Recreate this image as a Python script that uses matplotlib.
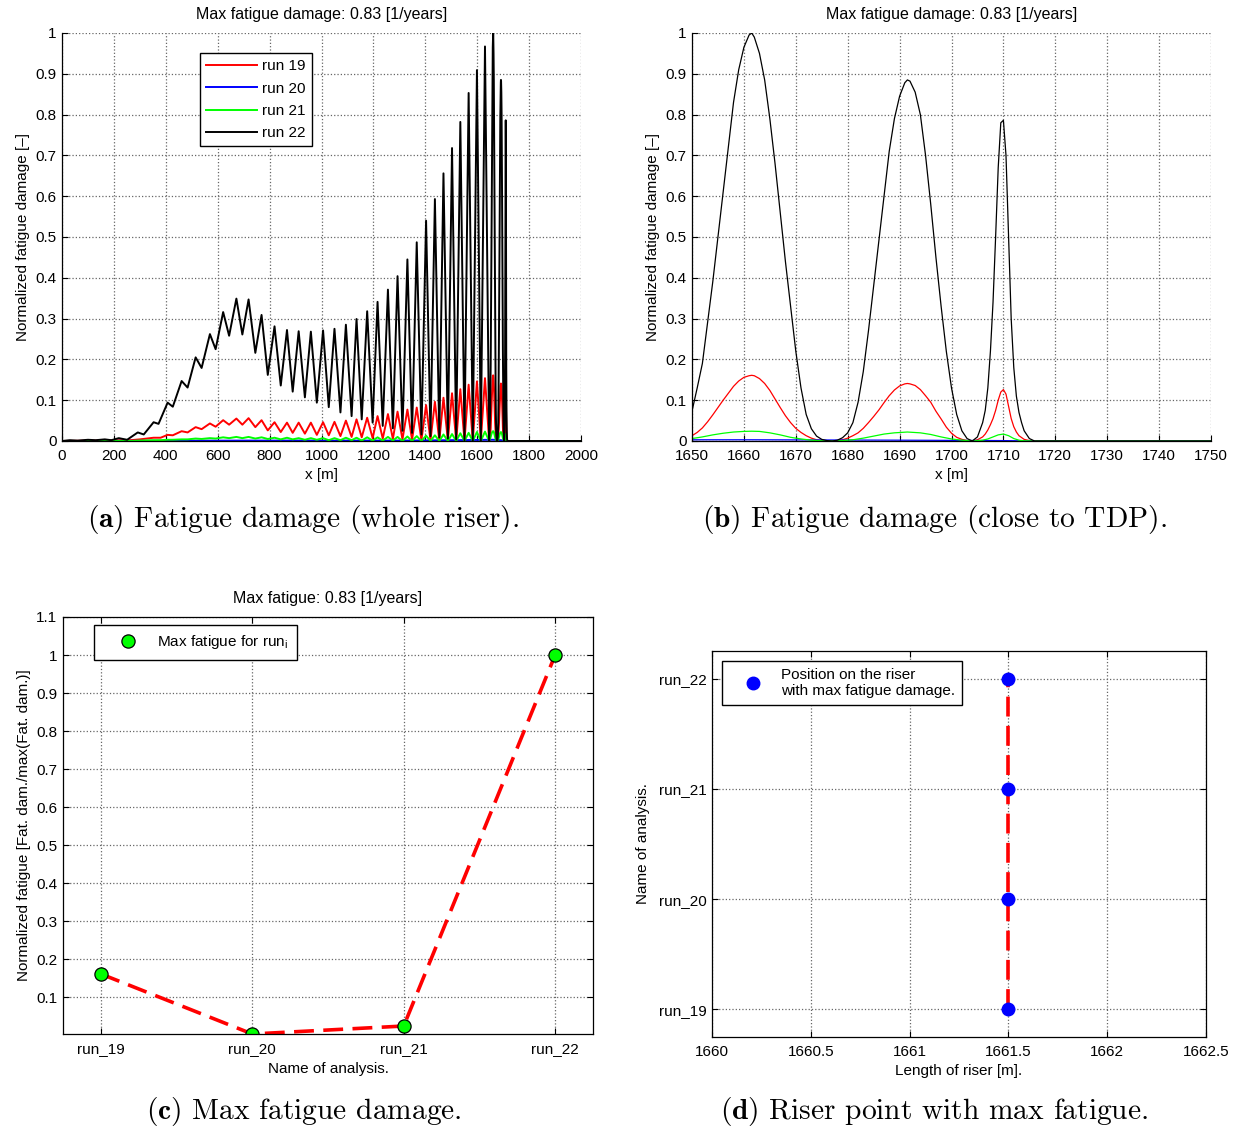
import matplotlib
matplotlib.use("Agg")
import matplotlib.pyplot as plt
from matplotlib.ticker import FuncFormatter, MultipleLocator

# ---------------------------------------------------------------------------
# Normalized fatigue damage along the riser, x in metres
# ---------------------------------------------------------------------------
# run 22: peaks / troughs along the riser, then a dense sampling near the TDP
x22_riser = [0, 30, 60, 100, 130, 165, 190, 219, 251, 292, 315, 353, 372, 407, 427,
             461, 484, 515, 538, 570, 592, 621, 644, 672, 695, 719, 745, 769, 793,
             819, 843, 867, 889, 912, 936, 959, 982, 1006, 1028, 1050, 1073, 1094,
             1116, 1135, 1155, 1176, 1197, 1216, 1236, 1256, 1275, 1293, 1312, 1331,
             1349, 1367, 1385, 1403, 1420, 1437, 1454, 1470, 1487, 1503, 1519, 1535,
             1551, 1567, 1583, 1599, 1614, 1630, 1646]
d22_riser = [0.0, 0.002, 0.001, 0.003, 0.002, 0.004, 0.002, 0.007, 0.003, 0.021, 0.016,
             0.046, 0.042, 0.094, 0.084, 0.147, 0.131, 0.205, 0.179, 0.262, 0.225,
             0.316, 0.258, 0.349, 0.261, 0.347, 0.216, 0.309, 0.162, 0.281, 0.136,
             0.272, 0.121, 0.269, 0.107, 0.268, 0.094, 0.271, 0.083, 0.275, 0.070,
             0.285, 0.061, 0.299, 0.053, 0.318, 0.045, 0.341, 0.037, 0.371, 0.031,
             0.404, 0.025, 0.445, 0.020, 0.487, 0.016, 0.540, 0.012, 0.593, 0.009,
             0.656, 0.006, 0.718, 0.004, 0.782, 0.002, 0.853, 0.001, 0.909, 0.0,
             0.967, 0.0]
x22_tdp = [1650, 1651, 1652, 1653, 1654, 1655, 1656, 1657, 1658, 1659, 1660, 1661,
           1661.5, 1662, 1663, 1664, 1665, 1666, 1667, 1668, 1669, 1670, 1671, 1672,
           1673, 1674, 1675, 1676, 1677, 1678, 1679, 1680, 1681, 1682, 1683, 1684,
           1685, 1686, 1687, 1688, 1689, 1690, 1691, 1691.5, 1692, 1693, 1694, 1695,
           1696, 1697, 1698, 1699, 1700, 1701, 1702, 1703, 1704, 1705, 1706, 1706.5,
           1707, 1707.5, 1708, 1708.5, 1709, 1709.5, 1710, 1710.5, 1711, 1711.5,
           1712, 1712.5, 1713, 1713.5, 1714, 1715, 1716, 2000]
d22_tdp = [0.073, 0.13, 0.19, 0.29, 0.39, 0.50, 0.61, 0.72, 0.83, 0.91, 0.965, 0.995,
           1.0, 0.99, 0.95, 0.885, 0.79, 0.68, 0.56, 0.44, 0.33, 0.22, 0.13, 0.065,
           0.03, 0.012, 0.004, 0.001, 0.0, 0.002, 0.008, 0.02, 0.045, 0.095, 0.17,
           0.27, 0.38, 0.49, 0.60, 0.71, 0.79, 0.845, 0.878, 0.885, 0.882, 0.855,
           0.80, 0.70, 0.58, 0.45, 0.33, 0.22, 0.13, 0.065, 0.025, 0.006, 0.0, 0.01,
           0.045, 0.075, 0.13, 0.22, 0.34, 0.50, 0.67, 0.78, 0.786, 0.70, 0.50, 0.30,
           0.18, 0.11, 0.07, 0.045, 0.025, 0.006, 0.0, 0.0]

# runs 19 and 21 share the same sampling along the riser
x_riser = [0, 264, 300, 353, 380, 407, 427, 461, 484, 515, 538, 570, 592, 621, 644,
           672, 695, 719, 745, 769, 793, 819, 843, 867, 889, 912, 936, 959, 982,
           1006, 1028, 1050, 1073, 1094, 1116, 1135, 1155, 1176, 1197, 1216, 1236,
           1256, 1275, 1293, 1312, 1331, 1349, 1367, 1385, 1403, 1420, 1437, 1454,
           1470, 1487, 1503, 1519, 1535, 1551, 1567, 1583, 1599, 1614, 1630, 1646]
d19_riser = [0.0, 0.002, 0.004, 0.008, 0.008, 0.015, 0.014, 0.024, 0.021, 0.034,
             0.029, 0.043, 0.035, 0.051, 0.040, 0.055, 0.040, 0.056, 0.034, 0.051,
             0.026, 0.046, 0.022, 0.045, 0.020, 0.045, 0.018, 0.045, 0.015, 0.046,
             0.014, 0.047, 0.012, 0.050, 0.010, 0.053, 0.009, 0.057, 0.007, 0.061,
             0.006, 0.066, 0.005, 0.072, 0.004, 0.077, 0.003, 0.082, 0.002, 0.088,
             0.002, 0.096, 0.001, 0.106, 0.001, 0.117, 0.0, 0.127, 0.0, 0.138, 0.0,
             0.146, 0.0, 0.154, 0.0]
d21_riser = [0.0, 0.0, 0.001, 0.002, 0.002, 0.003, 0.003, 0.004, 0.004, 0.006, 0.005,
             0.007, 0.006, 0.009, 0.007, 0.010, 0.007, 0.010, 0.006, 0.009, 0.005,
             0.008, 0.004, 0.008, 0.004, 0.007, 0.003, 0.007, 0.003, 0.007, 0.002,
             0.007, 0.002, 0.008, 0.002, 0.008, 0.001, 0.009, 0.001, 0.009, 0.001,
             0.010, 0.001, 0.010, 0.0, 0.011, 0.0, 0.012, 0.0, 0.013, 0.0, 0.014,
             0.0, 0.016, 0.0, 0.017, 0.0, 0.019, 0.0, 0.020, 0.0, 0.022, 0.0, 0.023,
             0.0]

x19_tdp = [1650, 1651, 1652, 1653, 1654, 1655, 1656, 1657, 1658, 1659, 1660, 1661,
           1661.5, 1662, 1663, 1664, 1665, 1666, 1667, 1668, 1669, 1670, 1671, 1672,
           1673, 1674, 1675, 1676, 1677, 1678, 1679, 1680, 1681, 1682, 1683, 1684,
           1685, 1686, 1687, 1688, 1689, 1690, 1691, 1691.5, 1692, 1693, 1694, 1695,
           1696, 1697, 1698, 1699, 1700, 1701, 1702, 1703, 1704, 1705, 1706, 1706.5,
           1707, 1707.5, 1708, 1708.5, 1709, 1709.5, 1710, 1710.5, 1711, 1711.5,
           1712, 1712.5, 1713, 1714, 1715, 1716, 2000]
d19_tdp = [0.013, 0.021, 0.032, 0.047, 0.064, 0.082, 0.100, 0.117, 0.134, 0.147,
           0.156, 0.160, 0.161, 0.160, 0.153, 0.141, 0.124, 0.103, 0.082, 0.062,
           0.045, 0.031, 0.021, 0.013, 0.007, 0.003, 0.001, 0.0, 0.0, 0.001, 0.003,
           0.007, 0.013, 0.020, 0.031, 0.045, 0.060, 0.076, 0.094, 0.111, 0.125,
           0.135, 0.140, 0.141, 0.140, 0.136, 0.126, 0.111, 0.095, 0.073, 0.054,
           0.034, 0.019, 0.009, 0.004, 0.001, 0.0, 0.003, 0.010, 0.017, 0.027,
           0.040, 0.055, 0.075, 0.100, 0.120, 0.126, 0.115, 0.085, 0.055, 0.035,
           0.022, 0.013, 0.004, 0.001, 0.0, 0.0]

x21_tdp = [1650, 1652, 1654, 1656, 1658, 1660, 1661.5, 1663, 1665, 1667, 1669, 1671,
           1673, 1675, 1677, 1679, 1681, 1683, 1685, 1687, 1689, 1691.5, 1694, 1696,
           1698, 1700, 1702, 1704, 1706, 1707, 1708, 1709, 1710, 1711, 1712, 1713,
           1714, 1716, 2000]
d21_tdp = [0.006, 0.010, 0.015, 0.019, 0.022, 0.0235, 0.024, 0.0235, 0.020, 0.015,
           0.009, 0.005, 0.002, 0.0005, 0.0, 0.001, 0.003, 0.007, 0.012, 0.017,
           0.020, 0.022, 0.020, 0.016, 0.010, 0.005, 0.002, 0.0, 0.002, 0.005,
           0.010, 0.015, 0.017, 0.013, 0.006, 0.002, 0.0005, 0.0, 0.0]

# run 20 stays practically at zero over the whole riser
x20 = [0, 400, 700, 1000, 1300, 1500, 1661.5, 1690, 1710, 1716, 2000]
d20 = [0.0, 0.0005, 0.001, 0.001, 0.001, 0.002, 0.003, 0.002, 0.001, 0.0, 0.0]

# summary per analysis
run_names = ["run_19", "run_20", "run_21", "run_22"]
max_fatigue_norm = [0.161, 0.003, 0.024, 1.0]
max_fatigue_pos = [1661.5, 1661.5, 1661.5, 1661.5]
max_damage = 0.83

# ---------------------------------------------------------------------------
plt.rcParams.update({
    "font.family": ["Liberation Sans", "DejaVu Sans"],
    "font.size": 11,
    "mathtext.fontset": "cm",
    "axes.linewidth": 0.9,
    "xtick.direction": "in",
    "ytick.direction": "in",
    "xtick.major.size": 4,
    "ytick.major.size": 4,
    "xtick.major.width": 0.8,
    "ytick.major.width": 0.8,
    "xtick.major.pad": 6,
    "ytick.major.pad": 4,
    "grid.linestyle": ":",
    "grid.color": "0.4",
    "grid.linewidth": 0.9,
    "legend.fancybox": False,
    "legend.edgecolor": "black",
    "legend.framealpha": 1,
    "legend.fontsize": 11,
})

W, H = 1239, 1129
fig = plt.figure(figsize=(W / 100, H / 100), dpi=100)


def px_axes(left, top, right, bottom):
    return fig.add_axes([left / W, 1 - bottom / H, (right - left) / W, (bottom - top) / H])


gfmt = FuncFormatter(lambda v, p: "%g" % round(v, 6))

x19 = x_riser + x19_tdp
d19 = d19_riser + d19_tdp
x21 = x_riser + x21_tdp
d21 = d21_riser + d21_tdp
x22 = x22_riser + x22_tdp
d22 = d22_riser + d22_tdp

series = [(x19, d19, "#ff0000", "run 19"),
          (x20, d20, "#0000ff", "run 20"),
          (x21, d21, "#00ff00", "run 21"),
          (x22, d22, "#000000", "run 22")]


def damage_axes(ax, lw, xlim, xstep):
    for xs, ds, c, lab in series:
        ax.plot(xs, ds, color=c, lw=lw, label=lab)
    ax.set_xlim(*xlim)
    ax.set_ylim(0, 1)
    ax.xaxis.set_major_locator(MultipleLocator(xstep))
    ax.yaxis.set_major_locator(MultipleLocator(0.1))
    ax.xaxis.set_major_formatter(gfmt)
    ax.yaxis.set_major_formatter(gfmt)
    ax.spines["top"].set_visible(False)
    ax.spines["right"].set_visible(False)
    ax.grid(True)
    ax.set_axisbelow(True)
    ax.set_title("Max fatigue damage: %.2f [1/years]" % max_damage, fontsize=11.5, pad=10)
    ax.set_xlabel("x [m]", labelpad=3)
    ax.set_ylabel("Normalized fatigue damage [–]", labelpad=4)


# (a) whole riser
ax_a = px_axes(62, 33, 581, 441)
damage_axes(ax_a, 1.4, (0, 2000), 200)
ax_a.legend(loc="upper left", bbox_to_anchor=(0.266, 0.951), handlelength=3.3,
            handletextpad=0.35, labelspacing=0.55, borderpad=0.4, borderaxespad=0)

# (b) close to the touch down point
ax_b = px_axes(692, 33, 1211, 441)
damage_axes(ax_b, 0.9, (1650, 1750), 10)

# (c) max fatigue per analysis
ax_c = px_axes(63, 617, 593, 1034)
pos = [1, 2, 3, 4]
ax_c.plot(pos, max_fatigue_norm, color="#ff0000", lw=2.6, dashes=(5.5, 2.6))
ax_c.plot(pos, max_fatigue_norm, "o", mfc="#00ff00", mec="black", mew=0.9, ms=9.5,
          label=r"Max fatigue for run$_\mathregular{i}$")
ax_c.set_xlim(0.75, 4.25)
ax_c.set_ylim(max_fatigue_norm[1], 1.1)
ax_c.set_xticks(pos)
ax_c.set_xticklabels(run_names)
ax_c.set_yticks([0.1 * k for k in range(1, 12)])
ax_c.yaxis.set_major_formatter(gfmt)
ax_c.tick_params(top=True, right=True)
ax_c.grid(True)
ax_c.set_axisbelow(True)
ax_c.set_title("Max fatigue: %.2f [1/years]" % max_damage, fontsize=11.5, pad=10)
ax_c.set_xlabel("Name of analysis.", labelpad=4)
ax_c.set_ylabel("Normalized fatigue [Fat. dam./max(Fat. dam.)]", labelpad=4)
ax_c.legend(loc="upper left", bbox_to_anchor=(0.058, 0.981), handlelength=3.35,
            handletextpad=0.22, borderpad=0.55, borderaxespad=0)

# (d) riser point with max fatigue
ax_d = px_axes(712, 651, 1206, 1037)
ax_d.plot(max_fatigue_pos, pos, color="#ff0000", lw=2.6, dashes=(5.5, 2.6))
ax_d.plot(max_fatigue_pos, pos, "o", mfc="#0000ff", mec="#0000ff", ms=9,
          label="Position on the riser\nwith max fatigue damage.")
ax_d.set_xlim(1660, 1662.5)
ax_d.set_ylim(0.75, 4.25)
ax_d.xaxis.set_major_locator(MultipleLocator(0.5))
ax_d.xaxis.set_major_formatter(gfmt)
ax_d.set_yticks(pos)
ax_d.set_yticklabels(run_names)
ax_d.tick_params(top=True, right=True)
ax_d.grid(True)
ax_d.set_axisbelow(True)
ax_d.set_xlabel("Length of riser [m].", labelpad=3)
ax_d.set_ylabel("Name of analysis.", labelpad=6)
ax_d.legend(loc="upper left", bbox_to_anchor=(0.02, 0.974), handlelength=3.2,
            handletextpad=0.2, borderpad=0.45, borderaxespad=0)

# sub-figure captions
cap_kw = dict(family="cmr10", fontsize=21.2, ha="center", va="center")
fig.text(303 / W, 1 - 520 / H, r"$\mathbf{(a)}$ Fatigue damage (whole riser).", **cap_kw)
fig.text(934 / W, 1 - 520 / H, r"$\mathbf{(b)}$ Fatigue damage (close to TDP).", **cap_kw)
fig.text(304 / W, 1 - 1112 / H, r"$\mathbf{(c)}$ Max fatigue damage.", **cap_kw)
fig.text(934 / W, 1 - 1112 / H, r"$\mathbf{(d)}$ Riser point with max fatigue.", **cap_kw)

fig.savefig("out.png", dpi=100)
